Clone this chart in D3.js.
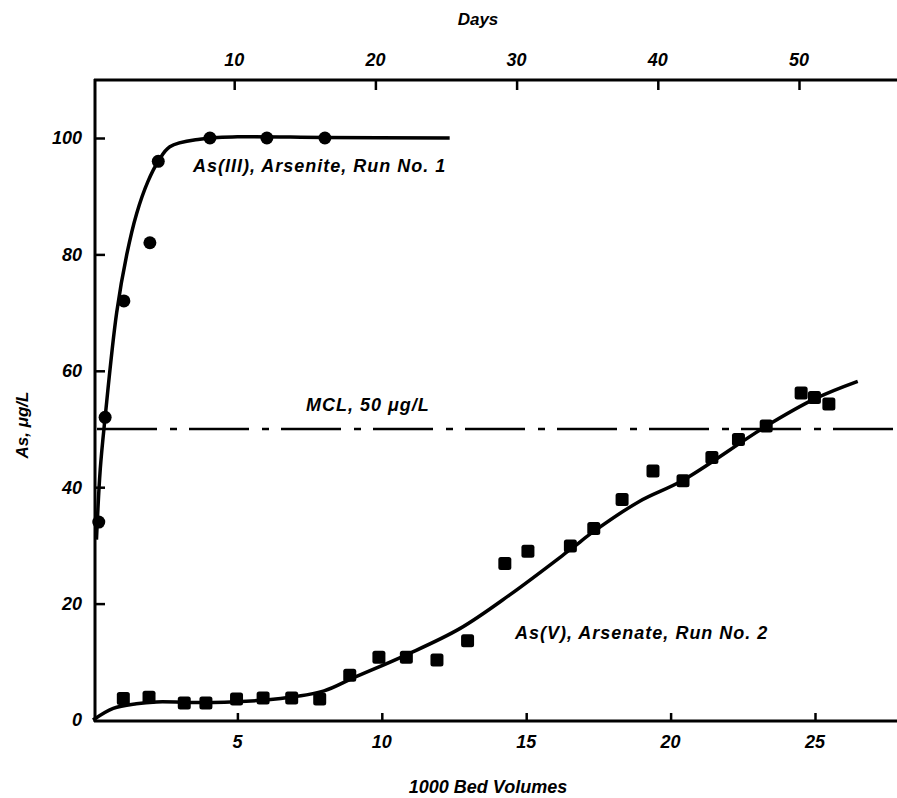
<!DOCTYPE html>
<html>
<head>
<meta charset="utf-8">
<script src="https://cdn.jsdelivr.net/npm/d3@7"></script>
<style>
  body { margin: 0; background: #fff; }
  text { font-family: "Liberation Sans", Arial, sans-serif; font-style: italic; font-weight: bold; fill: #000; }
</style>
</head>
<body>
<svg id="graphic-svg" width="897" height="798"></svg>
<script>
var svg = d3.select("#graphic-svg");

// Data (x = 1000 bed volumes, y = As ug/L)
var arseniteX = [0.2, 0.42, 1.07, 1.97, 2.26, 4.05, 6.02, 8.03];
var arseniteY = [34, 52, 72, 82, 96, 100, 100, 100];
var arseniteFitX = [0.12, 0.25, 0.42, 0.82, 1.17, 1.51, 1.9, 2.26, 2.66, 3.7, 5, 8, 12.35];
var arseniteFitY = [31, 43, 52, 70, 80, 87, 92.5, 96, 98.5, 99.8, 100.2, 100.1, 100];

var arsenateX = [1.05, 1.94, 3.16, 3.91, 4.97, 5.89, 6.88, 7.85, 8.89, 9.9, 10.85, 11.91, 12.97,
                 14.26, 15.06, 16.53, 17.34, 18.32, 19.39, 20.43, 21.43, 22.35, 23.31, 24.52, 24.98, 25.48];
var arsenateY = [3.7, 3.9, 2.9, 2.9, 3.6, 3.8, 3.8, 3.6, 7.7, 10.8, 10.8, 10.3, 13.6,
                 26.9, 29, 29.9, 32.9, 37.9, 42.8, 41.1, 45.1, 48.2, 50.5, 56.2, 55.4, 54.3];
var arsenateFitX = [0, 0.7, 1.5, 2.2, 4.15, 6.5, 8, 9, 10.85, 12.7, 14.43, 16.53, 17.34, 18.93, 20.43, 23.31, 25.04, 26.48];
var arsenateFitY = [0, 2.0, 2.8, 3.1, 3.0, 3.7, 5.0, 7.2, 11.2, 15.7, 21.5, 29.3, 32.4, 37.6, 41.2, 50.5, 55.3, 58.2];

var mclValue = 50;
var bedTicks = [5, 10, 15, 20, 25];
var dayTicks = [10, 20, 30, 40, 50];
var yTicks = [0, 20, 40, 60, 80, 100];

// Scales
var xScale = d3.scaleLinear().domain([0, 25]).range([93, 815]);
var dayScale = d3.scaleLinear().domain([0, 50]).range([93, 799]);
var yScale = d3.scaleLinear().domain([0, 100]).range([720, 138]);

var frame = { left: 95, right: 897, top: 80, bottom: 721 };

// Frame
svg.append("line").attr("x1", frame.left).attr("x2", frame.left).attr("y1", frame.top - 1).attr("y2", frame.bottom + 1)
   .style("stroke", "#000").style("stroke-width", 3);
svg.append("line").attr("x1", frame.left - 1).attr("x2", frame.right).attr("y1", frame.top).attr("y2", frame.top)
   .style("stroke", "#000").style("stroke-width", 3);
svg.append("line").attr("x1", frame.left - 1).attr("x2", frame.right).attr("y1", frame.bottom).attr("y2", frame.bottom)
   .style("stroke", "#000").style("stroke-width", 3);

// Axes
var yAxis = d3.axisRight(yScale).tickValues(yTicks.filter(function(d) { return d > 0; }))
              .tickSize(10).tickFormat("");
svg.append("g").attr("transform", "translate(" + frame.left + ",0)").call(yAxis)
   .call(function(g) { g.select(".domain").remove(); })
   .selectAll("line").style("stroke-width", 2.5);
svg.selectAll(".yLabel")
   .data(yTicks)
   .enter()
   .append("text")
   .attr("class", "yLabel")
   .attr("x", 82)
   .attr("y", function(d) { return yScale(d); })
   .attr("dy", "0.35em")
   .style("text-anchor", "end")
   .style("font-size", "18px")
   .text(function(d) { return d; });

var xAxis = d3.axisTop(xScale).tickValues(bedTicks).tickSize(8).tickFormat("");
svg.append("g").attr("transform", "translate(0," + frame.bottom + ")").call(xAxis)
   .call(function(g) { g.select(".domain").remove(); })
   .selectAll("line").style("stroke-width", 2.5);
svg.selectAll(".xLabel")
   .data(bedTicks)
   .enter()
   .append("text")
   .attr("class", "xLabel")
   .attr("x", function(d) { return xScale(d); })
   .attr("y", 748)
   .style("text-anchor", "middle")
   .style("font-size", "18px")
   .text(function(d) { return d; });

var dayAxis = d3.axisBottom(dayScale).tickValues(dayTicks).tickSize(10).tickFormat("");
svg.append("g").attr("transform", "translate(0," + frame.top + ")").call(dayAxis)
   .call(function(g) { g.select(".domain").remove(); })
   .selectAll("line").style("stroke-width", 2.5);
svg.selectAll(".dayLabel")
   .data(dayTicks)
   .enter()
   .append("text")
   .attr("class", "dayLabel")
   .attr("x", function(d) { return dayScale(d); })
   .attr("y", 66)
   .style("text-anchor", "middle")
   .style("font-size", "18px")
   .text(function(d) { return d; });

// Titles
svg.append("text").text("Days").attr("x", 478).attr("y", 25)
   .style("text-anchor", "middle").style("font-size", "17px");
svg.append("text").text("1000 Bed Volumes").attr("x", 488).attr("y", 793)
   .style("text-anchor", "middle").style("font-size", "18px");
svg.append("text").text("As, \u03bcg/L")
   .attr("transform", "translate(28,425) rotate(-90)")
   .style("text-anchor", "middle").style("font-size", "17px");

// MCL line
svg.append("line")
   .attr("x1", frame.left + 2).attr("x2", frame.right)
   .attr("y1", yScale(mclValue)).attr("y2", yScale(mclValue))
   .style("stroke", "#000").style("stroke-width", 2.5)
   .style("stroke-dasharray", "60,13,7,12");
svg.append("text").text("MCL, 50 \u03bcg/L").attr("x", 306).attr("y", 411)
   .style("font-size", "18px").style("letter-spacing", "1px");

// Fit curves
var line = d3.line()
             .x(function(d) { return xScale(d[0]); })
             .y(function(d) { return yScale(d[1]); })
             .curve(d3.curveCatmullRom.alpha(0.5));
svg.append("path")
   .datum(d3.zip(arseniteFitX, arseniteFitY))
   .attr("d", line)
   .style("fill", "none").style("stroke", "#000").style("stroke-width", 3.5);
svg.append("path")
   .datum(d3.zip(arsenateFitX, arsenateFitY))
   .attr("d", line)
   .style("fill", "none").style("stroke", "#000").style("stroke-width", 3.5);

// Points
svg.selectAll(".arsenite")
   .data(d3.zip(arseniteX, arseniteY))
   .enter()
   .append("circle")
   .attr("class", "arsenite")
   .attr("cx", function(d) { return xScale(d[0]); })
   .attr("cy", function(d) { return yScale(d[1]); })
   .attr("r", 6.5)
   .style("fill", "#000");
svg.selectAll(".arsenate")
   .data(d3.zip(arsenateX, arsenateY))
   .enter()
   .append("rect")
   .attr("class", "arsenate")
   .attr("x", function(d) { return xScale(d[0]) - 6.5; })
   .attr("y", function(d) { return yScale(d[1]) - 6.5; })
   .attr("width", 13)
   .attr("height", 13)
   .attr("rx", 2.5)
   .style("fill", "#000");

// Series labels
svg.append("text").text("As(III), Arsenite, Run No. 1").attr("x", 193).attr("y", 172)
   .style("font-size", "18px").style("letter-spacing", "1px");
svg.append("text").text("As(V), Arsenate, Run No. 2").attr("x", 515).attr("y", 639)
   .style("font-size", "18px").style("letter-spacing", "1px");
</script>
</body>
</html>
